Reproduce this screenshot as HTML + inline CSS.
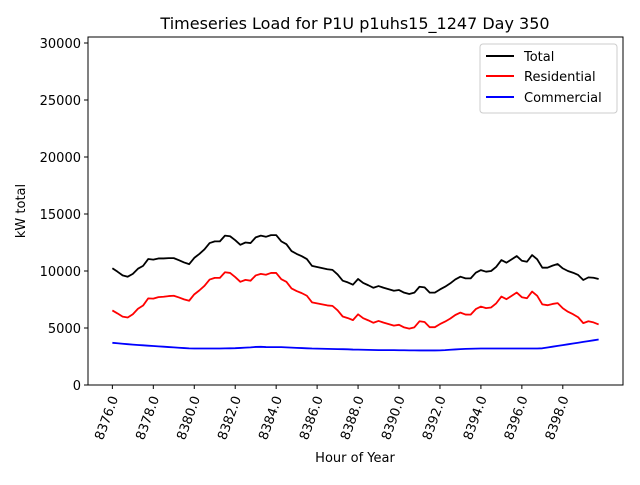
<!DOCTYPE html>
<html><head><meta charset="utf-8"><style>
body{margin:0;background:#fff}
svg text{font-family:"DejaVu Sans","Liberation Sans",sans-serif;fill:#000}
</style></head><body>
<svg id="chart" width="640" height="480" viewBox="0 0 640 480">
<rect width="640" height="480" fill="#fff"/>
<text x="355" y="29" font-size="16" text-anchor="middle">Timeseries Load for P1U p1uhs15_1247  Day 350</text>
<g id="plot"></g>
<rect x="88" y="37" width="535" height="348" fill="none" stroke="#000" stroke-width="1"/>
<text x="355" y="462" font-size="13" text-anchor="middle">Hour of Year</text>
<text transform="translate(25,211) rotate(-90)" font-size="13" text-anchor="middle">kW total</text>
<g>
<rect x="480" y="44" width="137" height="69" fill="#fff" stroke="#ccc" rx="3"/>
<g><line x1="486" y1="56" x2="514" y2="56" stroke="#000" stroke-width="2"/><text x="524" y="61" font-size="13">Total</text></g>
<g><line x1="486" y1="76" x2="514" y2="76" stroke="#f00" stroke-width="2"/><text x="524" y="81" font-size="13">Residential</text></g>
<g><line x1="486" y1="97" x2="514" y2="97" stroke="#00f" stroke-width="2"/><text x="524" y="102" font-size="13">Commercial</text></g>
</g>
</svg>
<script>
const startHour = 8376;
const stepHours = 0.25;
const total = [10240,9940,9620,9500,9750,10200,10450,11050,11000,11100,11100,11130,11130,10950,10750,10600,11150,11500,11900,12450,12600,12600,13100,13050,12700,12300,12500,12450,12950,13100,13000,13150,13150,12600,12350,11750,11500,11300,11050,10450,10350,10250,10150,10100,9700,9150,9000,8800,9300,8950,8750,8530,8680,8530,8400,8270,8330,8100,7980,8100,8620,8560,8100,8100,8380,8620,8910,9260,9500,9350,9350,9850,10080,9940,10000,10370,10960,10730,11020,11310,10900,10810,11400,11020,10290,10290,10470,10610,10230,10000,9850,9650,9210,9440,9410,9300];
const residential = [6540,6280,6000,5920,6210,6690,6970,7600,7580,7710,7740,7800,7830,7680,7510,7390,7950,8300,8700,9250,9400,9400,9890,9830,9470,9050,9220,9150,9610,9750,9670,9830,9830,9280,9050,8470,8240,8060,7830,7250,7160,7070,6980,6940,6550,6010,5870,5690,6200,5860,5670,5460,5620,5470,5340,5210,5280,5050,4940,5060,5590,5530,5070,5070,5340,5560,5820,6140,6350,6180,6170,6660,6880,6740,6800,7170,7760,7530,7820,8110,7700,7610,8200,7820,7070,7000,7110,7180,6730,6430,6210,5940,5430,5590,5490,5310];
const commercial = [3700,3660,3620,3580,3540,3510,3480,3450,3420,3390,3360,3330,3300,3270,3240,3210,3200,3200,3200,3200,3200,3200,3210,3220,3230,3250,3280,3300,3340,3350,3330,3320,3320,3320,3300,3280,3260,3240,3220,3200,3190,3180,3170,3160,3150,3140,3130,3110,3100,3090,3080,3070,3060,3060,3060,3060,3050,3050,3040,3040,3030,3030,3030,3030,3040,3060,3090,3120,3150,3170,3180,3190,3200,3200,3200,3200,3200,3200,3200,3200,3200,3200,3200,3200,3220,3290,3360,3430,3500,3570,3640,3710,3780,3850,3920,3990];
const yTicks = [0,5000,10000,15000,20000,25000,30000];
const xTicks = [8376,8378,8380,8382,8384,8386,8388,8390,8392,8394,8396,8398];

const NS='http://www.w3.org/2000/svg';
const plot=document.getElementById('plot');
const X0=88,X1=623,Y0=385,Y1=37;
const xmin=8374.81,xmax=8400.94,ymin=0,ymax=30526;
function xs(h){return X0+(h-xmin)/(xmax-xmin)*(X1-X0);}
function ys(v){return Y0-(v-ymin)/(ymax-ymin)*(Y0-Y1);}
function mk(tag,attrs){const e=document.createElementNS(NS,tag);for(const k in attrs)e.setAttribute(k,attrs[k]);return e;}

yTicks.forEach(v=>{
  const g=mk('g',{});
  
  
  g.appendChild(mk('line',{x1:X0-4,x2:X0,y1:ys(v),y2:ys(v),stroke:'#000'}));
  const t=mk('text',{x:X0-7,y:ys(v)+5,'font-size':13,'text-anchor':'end'});
  t.textContent=v;
  g.appendChild(t);
  plot.appendChild(g);
});
xTicks.forEach(h=>{
  const g=mk('g',{});
  
  
  const x=xs(h);
  g.appendChild(mk('line',{x1:x,x2:x,y1:Y0,y2:Y0+4,stroke:'#000'}));
  const t=mk('text',{'font-size':13,'text-anchor':'end',transform:'translate('+(x+6)+','+(Y0+13)+') rotate(-70)'});
  t.textContent=h.toFixed(1);
  g.appendChild(t);
  plot.appendChild(g);
});
function drawLine(arr,color,name){
  const pts=arr.map((v,i)=>xs(startHour+i*stepHours).toFixed(2)+','+ys(v).toFixed(2)).join(' ');
  const p=mk('polyline',{points:pts,fill:'none',stroke:color,'stroke-width':1.8,'stroke-linejoin':'round'});
  
  
  plot.appendChild(p);
}
drawLine(total,'#000','total-line');
drawLine(residential,'#f00','residential-line');
drawLine(commercial,'#00f','commercial-line');
</script>
</body></html>
